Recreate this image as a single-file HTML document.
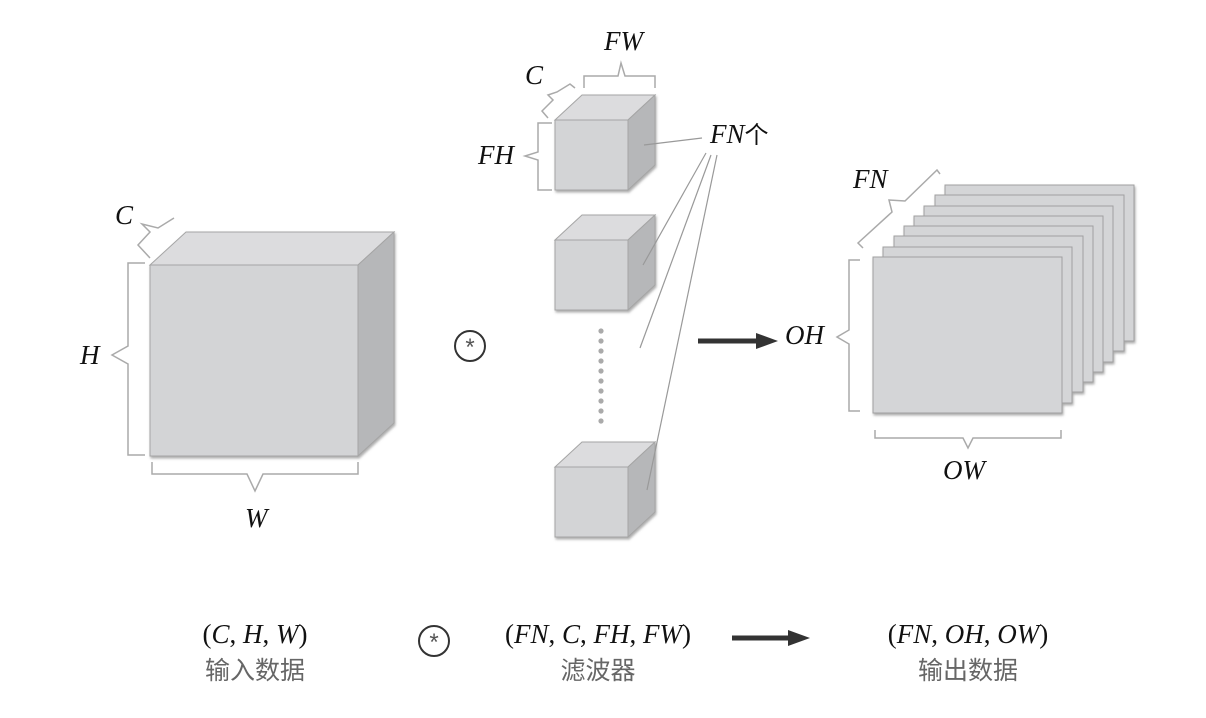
<!DOCTYPE html>
<html><head><meta charset="utf-8"><style>
html,body{margin:0;padding:0;background:#fff;}
svg{display:block;}
.m{font-family:"Liberation Serif",serif;font-style:italic;font-size:27px;fill:#111;}
.p{font-family:"Liberation Serif",serif;font-size:27px;fill:#111;}
.z{font-family:"Liberation Sans","Noto Sans CJK SC",sans-serif;font-size:25px;fill:#666;}
.br{fill:none;stroke:#aaa;stroke-width:1.5;}
.ld{stroke:#999;stroke-width:1.2;}
</style></head><body>
<svg width="1206" height="718" viewBox="0 0 1206 718" xmlns="http://www.w3.org/2000/svg">
<defs>
<filter id="sh" x="-10%" y="-10%" width="130%" height="130%"><feDropShadow dx="1" dy="2" stdDeviation="1.2" flood-color="#777" flood-opacity="0.6"/></filter>
</defs>
<!-- big cube -->
<g filter="url(#sh)" stroke="#a5a5a5" stroke-width="1">
<polygon points="150,265 186,232 394,232 358,265" fill="#dcdcde"/>
<polygon points="358,265 394,232 394,423 358,456" fill="#b6b7b9"/>
<rect x="150" y="265" width="208" height="191" fill="#d3d4d6"/>
</g>
<!-- braces big -->
<path class="br" d="M145,263 L128,263 L128,346 L112,355 L128,364 L128,455 L145,455"/>
<path class="br" d="M152,462 L152,474 L247,474 L255,491 L263,474 L358,474 L358,462"/>
<path class="br" d="M150,258 L138,245 L150,232 L142,224 L158,228 L174,218"/>
<text class="m" x="115" y="224">C</text>
<text class="m" x="80" y="364">H</text>
<text class="m" x="245" y="527">W</text>
<!-- conv symbol -->
<circle cx="470" cy="346" r="15" fill="none" stroke="#333" stroke-width="2"/>
<text x="470" y="355" text-anchor="middle" style="font-family:'Liberation Sans',sans-serif;font-size:24px;fill:#555">*</text>
<!-- small cubes -->
<g filter="url(#sh)" stroke="#a5a5a5" stroke-width="1">
<polygon points="555,120 582,95 655,95 628,120" fill="#dcdcde"/>
<polygon points="628,120 655,95 655,165 628,190" fill="#b6b7b9"/>
<rect x="555" y="120" width="73" height="70" fill="#d3d4d6"/>
<polygon points="555,240 582,215 655,215 628,240" fill="#dcdcde"/>
<polygon points="628,240 655,215 655,285 628,310" fill="#b6b7b9"/>
<rect x="555" y="240" width="73" height="70" fill="#d3d4d6"/>
<polygon points="555,467 582,442 655,442 628,467" fill="#dcdcde"/>
<polygon points="628,467 655,442 655,512 628,537" fill="#b6b7b9"/>
<rect x="555" y="467" width="73" height="70" fill="#d3d4d6"/>
</g>
<g fill="#aaa">
<circle cx="601" cy="331" r="2.6"/><circle cx="601" cy="341" r="2.6"/><circle cx="601" cy="351" r="2.6"/><circle cx="601" cy="361" r="2.6"/><circle cx="601" cy="371" r="2.6"/><circle cx="601" cy="381" r="2.6"/><circle cx="601" cy="391" r="2.6"/><circle cx="601" cy="401" r="2.6"/><circle cx="601" cy="411" r="2.6"/><circle cx="601" cy="421" r="2.6"/>
</g>
<path class="br" d="M584,88 L584,76 L618,76 L621,63 L625,76 L655,76 L655,88"/>
<path class="br" d="M548,118 L542,111 L553,100 L548,95 L557,92 L570,84 L575,88"/>
<path class="br" d="M552,123 L538,123 L538,152 L525,156 L538,160 L538,190 L552,190"/>
<text class="m" x="525" y="84">C</text>
<text class="m" x="604" y="50">FW</text>
<text class="m" x="478" y="164">FH</text>
<!-- leaders -->
<line class="ld" x1="644" y1="145" x2="702" y2="138"/>
<line class="ld" x1="643" y1="265" x2="706" y2="153"/>
<line class="ld" x1="640" y1="348" x2="711" y2="155"/>
<line class="ld" x1="647" y1="490" x2="717" y2="155"/>
<text class="m" x="710" y="143">FN<tspan style="font-style:normal;font-family:'Noto Sans CJK SC',sans-serif;font-size:24px">个</tspan></text>
<!-- arrow -->
<line x1="698" y1="341" x2="760" y2="341" stroke="#333" stroke-width="5"/>
<polygon points="756,333 778,341 756,349" fill="#333"/>
<text class="m" x="785" y="344">OH</text>
<!-- output sheets -->
<g stroke="#a0a0a0" stroke-width="1" fill="#d4d5d7" filter="url(#sh)">
<rect x="945" y="185" width="189" height="156"/>
<rect x="935" y="195" width="189" height="156"/>
<rect x="924" y="206" width="189" height="156"/>
<rect x="914" y="216" width="189" height="156"/>
<rect x="904" y="226" width="189" height="156"/>
<rect x="894" y="236" width="189" height="156"/>
<rect x="883" y="247" width="189" height="156"/>
<rect x="873" y="257" width="189" height="156"/>
</g>
<path class="br" d="M860,260 L849,260 L849,330 L837,337 L849,344 L849,411 L860,411"/>
<path class="br" d="M875,430 L875,438 L963,438 L968,448 L973,438 L1061,438 L1061,430"/>
<path class="br" d="M863,248 L858,243 L892,212 L889,200 L905,201 L937,170 L940,174"/>
<text class="m" x="853" y="188">FN</text>
<text class="m" x="943" y="479">OW</text>
<!-- bottom labels -->
<text class="p" x="255" y="643" text-anchor="middle">(<tspan font-style="italic">C</tspan>, <tspan font-style="italic">H</tspan>, <tspan font-style="italic">W</tspan>)</text>
<text class="z" x="255" y="679" text-anchor="middle">输入数据</text>
<circle cx="434" cy="641" r="15" fill="none" stroke="#333" stroke-width="2"/>
<text x="434" y="650" text-anchor="middle" style="font-family:'Liberation Sans',sans-serif;font-size:24px;fill:#555">*</text>
<text class="p" x="598" y="643" text-anchor="middle">(<tspan font-style="italic">FN</tspan>, <tspan font-style="italic">C</tspan>, <tspan font-style="italic">FH</tspan>, <tspan font-style="italic">FW</tspan>)</text>
<text class="z" x="598" y="679" text-anchor="middle">滤波器</text>
<line x1="732" y1="638" x2="792" y2="638" stroke="#333" stroke-width="5"/>
<polygon points="788,630 810,638 788,646" fill="#333"/>
<text class="p" x="968" y="643" text-anchor="middle">(<tspan font-style="italic">FN</tspan>, <tspan font-style="italic">OH</tspan>, <tspan font-style="italic">OW</tspan>)</text>
<text class="z" x="968" y="679" text-anchor="middle">输出数据</text>
</svg>
</body></html>
